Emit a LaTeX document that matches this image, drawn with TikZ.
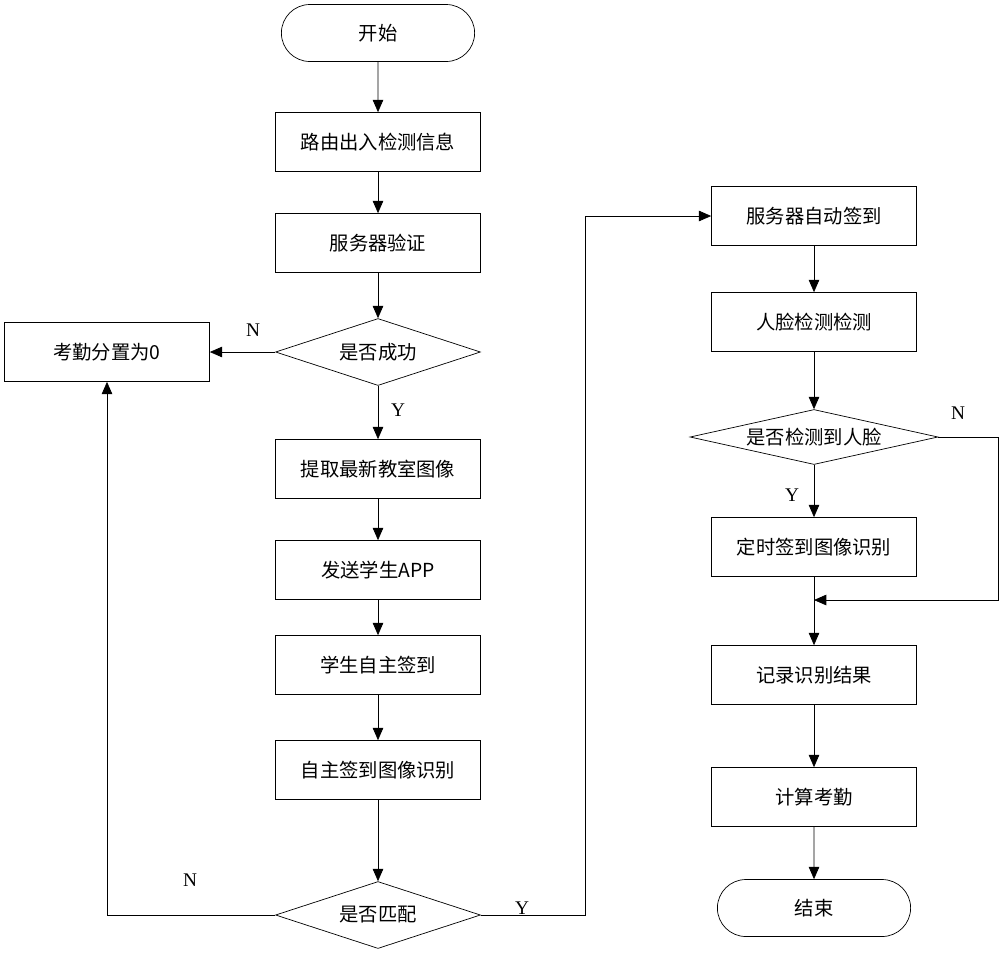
\documentclass[tikz,border=0pt]{standalone}
\usepackage{fontspec}
\setmainfont{Liberation Serif}
\newfontfamily\cjk{Noto Sans CJK SC}
\usetikzlibrary{shapes.geometric,shapes.misc,arrows.meta}
\tikzset{
  box/.style={draw,rectangle,minimum width=4.1cm,minimum height=1.18cm,font=\cjk\fontsize{11}{13}\selectfont},
  term/.style={draw,rounded rectangle,minimum width=4.1cm,minimum height=1.14cm,font=\cjk\fontsize{11}{13}\selectfont},
  dec/.style={draw,diamond,inner sep=0pt,aspect=3,minimum width=4.1cm,minimum height=1.34cm,font=\cjk\fontsize{11}{13}\selectfont},
  lbl/.style={font=\fontsize{11}{13}\selectfont},
  flow/.style={-{Triangle[length=7pt,width=6pt]}}
}
\begin{document}
\begin{tikzpicture}[x=0.02cm,y=-0.02cm]
  \useasboundingbox (0,0) rectangle (1000,958);
  \node[term] (start)  at (378,33)  {开始};
  \node[box]  (route)  at (378,142) {路由出入检测信息};
  \node[box]  (verify) at (378,243) {服务器验证};
  \node[dec]  (ok)     at (378,352) {是否成功};
  \node[box]  (zero)   at (107,352) {考勤分置为0};
  \node[box]  (img)    at (378,469) {提取最新教室图像};
  \node[box]  (app)    at (378,570) {发送学生APP};
  \node[box]  (self)   at (378,665) {学生自主签到};
  \node[box]  (selfr)  at (378,770) {自主签到图像识别};
  \node[dec]  (match)  at (378,915) {是否匹配};
  \node[box]  (auto)   at (814,216) {服务器自动签到};
  \node[box]  (face)   at (814,322) {人脸检测检测};
  \node[dec,aspect=4.5,minimum width=4.96cm,minimum height=1.1cm] (hasface) at (814,437) {是否检测到人脸};
  \node[box]  (timer)  at (814,547) {定时签到图像识别};
  \coordinate (join)   at (814,600);
  \node[box]  (rec)    at (814,675) {记录识别结果};
  \node[box]  (calc)   at (814,797) {计算考勤};
  \node[term] (stop)   at (814,908) {结束};

  \draw[flow] (start) -- (route);
  \draw[flow] (route) -- (verify);
  \draw[flow] (verify) -- (ok);
  \draw[flow] (ok) -- (zero);
  \draw[flow] (ok) -- (img);
  \draw[flow] (img) -- (app);
  \draw[flow] (app) -- (self);
  \draw[flow] (self) -- (selfr);
  \draw[flow] (selfr) -- (match);
  \draw[flow] (match.west) -| (zero.south);
  \draw[flow] (match.east) -- (585,915) |- (auto.west);
  \draw[flow] (auto) -- (face);
  \draw[flow] (face) -- (hasface);
  \draw[flow] (hasface) -- (timer);
  \draw[flow] (hasface.east) -- (998,437) |- (join);
  \draw (timer) -- (join);
  \draw[flow] (join) -- (rec);
  \draw[flow] (rec) -- (calc);
  \draw[flow] (calc) -- (stop);

  \node[lbl] (nok)  at (253,330) {N};
  \node[lbl] (yok)  at (398,410) {Y};
  \node[lbl] (nm)   at (190,880) {N};
  \node[lbl] (ym)   at (522,908) {Y};
  \node[lbl] (nf)   at (958,413) {N};
  \node[lbl] (yf)   at (792,495) {Y};
\end{tikzpicture}
\end{document}
